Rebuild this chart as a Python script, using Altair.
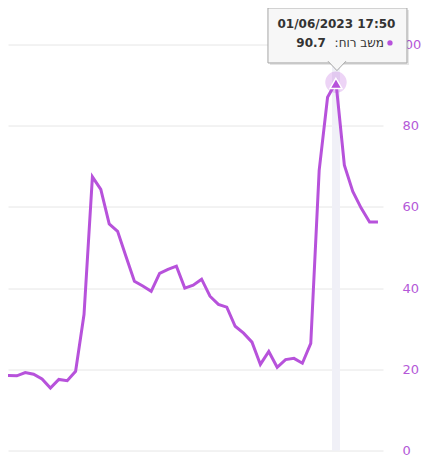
import altair as alt
import pandas as pd

# Wind gust readings, one every 10 minutes (index 40 = 01/06/2023 17:50)
gust = [18.5, 18.5, 18.4, 19.2, 18.8, 17.6, 15.4, 17.5, 17.2, 19.5,
        33.5, 67.4, 64.3, 55.8, 54.0, 47.8, 41.7, 40.5, 39.2, 43.6,
        44.6, 45.4, 40.0, 40.7, 42.2, 38.0, 36.0, 35.3, 30.6, 28.9,
        26.7, 21.2, 24.4, 20.5, 22.4, 22.7, 21.5, 26.4, 69.0, 87.0,
        90.7, 70.3, 63.8, 59.7, 56.3, 56.3]
y_ticks = [0, 20, 40, 60, 80, 100]
peak_index = 40
tooltip_time = "01/06/2023 17:50"
tooltip_label = ":משב רוח"
tooltip_value = "90.7"

LINE = "#b752db"
FONT = "DejaVu Sans"

df = pd.DataFrame({"i": list(range(len(gust))), "v": gust})
peak = df[df.i == peak_index].reset_index(drop=True)

xs = alt.Scale(domain=[0.95, 45.6], nice=False, zero=False)
ys = alt.Scale(domain=[0, 100], nice=False)
y_axis = alt.Axis(
    orient="right", values=y_ticks, title=None, ticks=False, domain=False,
    labelPadding={"condition": {"test": "datum.value >= 100", "value": 13}, "value": 19},
    labelAlign="left", labelBaseline="middle",
    labelColor="#b459d8", labelFont=FONT, labelFontSize=13,
    gridColor="#e6e6e6", gridWidth=1)
X = alt.X("i:Q", scale=xs, axis=None)
Y = alt.Y("v:Q", scale=ys, axis=y_axis)

base = alt.Chart(df)
pk = alt.Chart(peak)

band = pk.mark_rect(color="#f0f0f7", xOffset=-4, x2Offset=4).encode(
    x=X, x2="i:Q", y=alt.Y("zero:Q", scale=ys, axis=y_axis), y2="top:Q"
).transform_calculate(zero="0", top="100")

line = base.mark_line(color=LINE, strokeWidth=3, clip=True).encode(x=X, y=Y)

halo = pk.mark_circle(color=LINE, opacity=0.25, size=460).encode(x=X, y=Y)
tri = pk.mark_point(shape="triangle-up", filled=True, fill=LINE, fillOpacity=1,
                    stroke="white", strokeWidth=1.5, strokeOpacity=1,
                    size=140, yOffset=1).encode(x=X, y=Y)

shadow = pk.mark_rect(fill="#000000", opacity=0.10,
                      xOffset=-66, x2Offset=73, yOffset=-72.3, y2Offset=-17.3).encode(
    x=X, x2="i:Q", y=Y, y2="v:Q")
box = pk.mark_rect(fill="#f7f7f7", stroke="#a6a6a6", strokeWidth=1,
                   xOffset=-68, x2Offset=71, yOffset=-74.3, y2Offset=-19.3).encode(
    x=X, x2="i:Q", y=Y, y2="v:Q")
arrow = pk.mark_point(shape="M-1,-0.2L0,0.85L1,-0.2", filled=True, fill="#f7f7f7",
                      fillOpacity=1, stroke="#a6a6a6", strokeWidth=1, strokeOpacity=1,
                      size=324, yOffset=-19.3, xOffset=1).encode(x=X, y=Y)

t_time = pk.mark_text(text=tooltip_time, font=FONT, fontSize=12, fontWeight="bold",
                      color="#333333", align="center", baseline="middle",
                      dx=0.5, dy=-58.3).encode(x=X, y=Y)
t_val = pk.mark_text(text=tooltip_value, font=FONT, fontSize=12, fontWeight="bold",
                     color="#333333", align="right", baseline="middle",
                     dx=-10, dy=-39.3).encode(x=X, y=Y)
t_lab = pk.mark_text(text=tooltip_label, font=FONT, fontSize=12,
                     color="#333333", align="right", baseline="middle",
                     dx=48, dy=-39.3).encode(x=X, y=Y)
dot = pk.mark_circle(color=LINE, opacity=1, size=28, xOffset=54, yOffset=-39.3).encode(x=X, y=Y)

chart = alt.layer(band, line, halo, tri, shadow, box, arrow, t_time, t_val, t_lab, dot).properties(
    width=375, height=406,
    autosize=alt.AutoSizeParams(type="none"),
    padding={"left": 0, "top": 36.5, "right": 39, "bottom": 7},
).configure_view(stroke=None).configure_axis(labelFont=FONT)

chart.save("out.html", embed_options={"renderer": "svg", "actions": False})
